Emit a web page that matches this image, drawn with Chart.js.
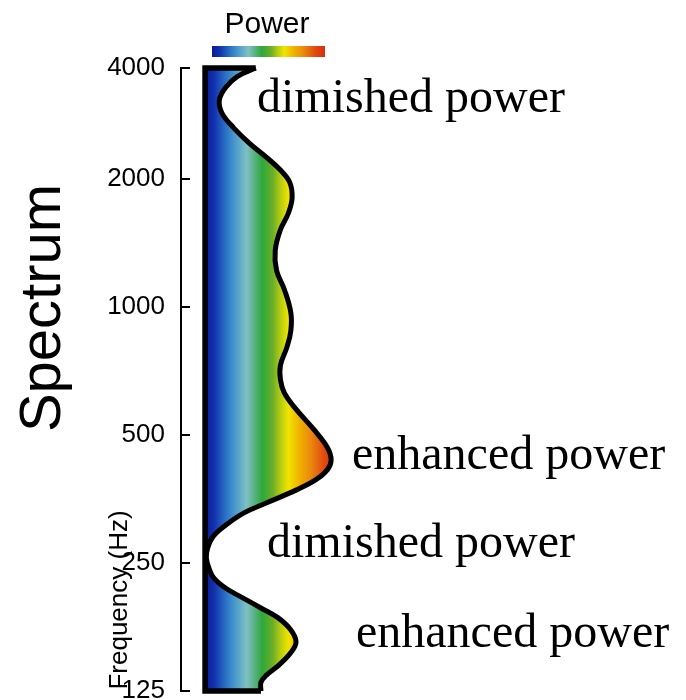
<!DOCTYPE html>
<html>
<head>
<meta charset="utf-8">
<script src="https://cdn.jsdelivr.net/npm/chart.js@4.4.0/dist/chart.umd.min.js"></script>
<style>
  html, body { margin: 0; padding: 0; background: #fff; }
  #wrap { width: 686px; height: 700px; position: relative; }
</style>
</head>
<body>
<div id="wrap"><canvas id="spectrum"></canvas></div>
<script>
// right-hand edge of the spectrum shape, read top of the axis to bottom (125 Hz)
const freqs = [3650, 3490, 3290, 3070, 2860, 2640, 2430, 2240, 2100, 1970,
               1810, 1660, 1520, 1360, 1220, 1100, 970, 880, 805, 730,
               675, 628, 580, 514, 468, 437, 414, 392, 371, 346,
               328, 307, 288, 271, 257, 243, 230, 218, 207, 196,
               186, 174, 163, 154, 144, 136, 131, 125];
// power in arbitrary units (0 = left edge, 100 = deep red)
const power = [39, 25, 16, 11, 13, 22, 34, 48, 58, 65,
               67, 64, 58, 54, 55, 61, 66, 66, 63, 58,
               58, 61, 69, 84, 94, 97, 94, 85, 70, 47,
               30, 16, 6, 2, 1, 3, 7, 16, 29, 43,
               56, 66, 70, 66, 57, 47, 43, 43];
// axis labels; the top one sits at the top of the axis
const freqTicks = [125, 250, 500, 1000, 2000, 4000];

// jet-like colour map used for the fill and the legend bar
const stops = [
  [0.00, '#0a1a98'], [0.07, '#1232ae'], [0.16, '#2a72c6'], [0.24, '#4e9ecc'],
  [0.32, '#80c0c4'], [0.39, '#52b078'], [0.44, '#2ea83a'], [0.52, '#6aae28'],
  [0.58, '#b4cc12'], [0.64, '#f0e400'], [0.73, '#f0b000'], [0.81, '#ea8a0c'],
  [0.92, '#e04810'], [1.00, '#d82c10']
];

function powerGradient(ctx, x0, x1) {
  const g = ctx.createLinearGradient(x0, 0, x1, 0);
  stops.forEach(([p, c]) => g.addColorStop(p, c));
  return g;
}

const curve = freqs.map((f, i) => ({ x: power[i], y: f }));
const last = freqs.length - 1;
const outline = [
  { x: power[0], y: freqs[0] },
  { x: 0, y: freqs[0] },
  { x: 0, y: freqs[last] },
  { x: power[last], y: freqs[last] }
];

const textPlugin = {
  id: 'texts',
  afterDraw(chart) {
    const ctx = chart.ctx;
    ctx.save();
    ctx.fillStyle = '#000';
    ctx.textBaseline = 'alphabetic';

    // legend: title and colour bar
    ctx.font = '30px "Liberation Sans", Arial, sans-serif';
    ctx.textAlign = 'center';
    ctx.fillText('Power', 267, 33);
    ctx.fillStyle = powerGradient(ctx, 212, 325);
    ctx.fillRect(212, 46, 113, 11);
    ctx.fillStyle = '#000';

    // rotated titles
    ctx.save();
    ctx.translate(60, 308);
    ctx.rotate(-Math.PI / 2);
    ctx.font = '58px "Liberation Sans", Arial, sans-serif';
    ctx.fillText('Spectrum', 0, 0);
    ctx.restore();

    ctx.save();
    ctx.translate(127, 600);
    ctx.rotate(-Math.PI / 2);
    ctx.font = '26px "Liberation Sans", Arial, sans-serif';
    ctx.fillText('Frequency (Hz)', 0, 0);
    ctx.restore();

    // annotations
    ctx.font = '48px "Liberation Serif", "Times New Roman", serif';
    ctx.textAlign = 'left';
    ctx.fillText('dimished power', 257, 112);
    ctx.fillText('enhanced power', 352, 469);
    ctx.fillText('dimished power', 267, 557);
    ctx.fillText('enhanced power', 356, 647);
    ctx.restore();
  }
};

new Chart(document.getElementById('spectrum'), {
  type: 'line',
  data: {
    datasets: [
      {
        data: outline,
        borderColor: '#000',
        borderWidth: 5.5,
        borderJoinStyle: 'miter',
        tension: 0,
        fill: false,
        pointRadius: 0,
        clip: false
      },
      {
        data: curve,
        borderColor: '#000',
        borderWidth: 5,
        tension: 0.4,
        pointRadius: 0,
        fill: 'origin',
        backgroundColor: (c) => {
          const chart = c.chart;
          if (!chart.chartArea) return 'rgba(0,0,0,0)';
          const sx = chart.scales.x;
          return powerGradient(chart.ctx, sx.getPixelForValue(0), sx.getPixelForValue(100));
        },
        clip: false
      }
    ]
  },
  options: {
    indexAxis: 'y',
    responsive: true,
    maintainAspectRatio: false,
    animation: false,
    layout: { padding: { top: 68, bottom: 9, left: 0, right: 0 } },
    plugins: {
      legend: { display: false },
      tooltip: { enabled: false }
    },
    scales: {
      x: {
        type: 'linear',
        min: -18.5,
        max: 370,
        display: false
      },
      y: {
        type: 'logarithmic',
        position: 'left',
        min: 125,
        max: 3650,
        afterBuildTicks: (scale) => {
          scale.ticks = freqTicks.map(v => ({ value: Math.min(v, scale.max) }));
        },
        afterFit: (scale) => {
          scale.width = 181;
          scale.paddingTop = 0;
          scale.paddingBottom = 0;
        },
        border: { display: true, color: '#000', width: 2 },
        grid: {
          display: true,
          drawOnChartArea: false,
          drawTicks: true,
          tickLength: -9,
          color: '#000',
          lineWidth: 2
        },
        ticks: {
          padding: 25,
          color: '#000',
          font: { family: '"Liberation Sans", Arial, sans-serif', size: 26 },
          callback: (v, i) => String(freqTicks[i])
        }
      }
    }
  },
  plugins: [textPlugin]
});
</script>
</body>
</html>
